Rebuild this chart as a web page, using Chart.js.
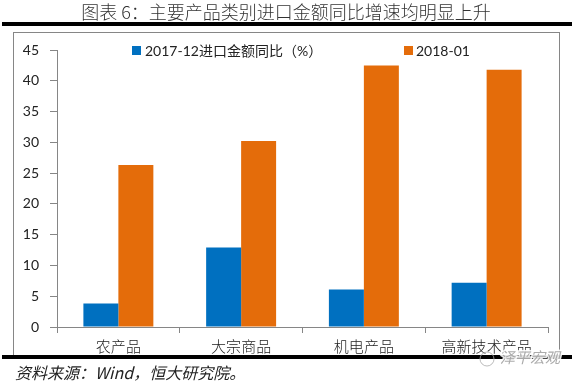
<!DOCTYPE html>
<html>
<head>
<meta charset="utf-8">
<script src="https://cdn.jsdelivr.net/npm/chart.js@4"></script>
<style>
  html, body { margin: 0; padding: 0; background: #fff; }
  #wrap { width: 574px; height: 383px; position: relative; }
</style>
</head>
<body>
<div id="wrap"><canvas id="chart" width="574" height="383"></canvas></div>
<script>
const categories = ["农产品", "大宗商品", "机电产品", "高新技术产品"];
const dec2017 = [3.8, 12.9, 6.1, 7.2];
const jan2018 = [26.3, 30.2, 42.5, 41.8];
const seriesNames = ["2017-12进口金额同比（%）", "2018-01"];
const yTicks = [0, 5, 10, 15, 20, 25, 30, 35, 40, 45];

const blue = "#0070C0";
const orange = "#E46C0A";
const axisGray = "#868686";
const numFont = "Lato, 'Noto Sans CJK SC', sans-serif";
const cjkFont = "'Noto Sans CJK SC', sans-serif";

// title, frame, custom legend and source line
const decor = {
  id: "decor",
  afterDraw(chart) {
    const ctx = chart.ctx;
    ctx.save();

    ctx.fillStyle = "#333";
    ctx.font = "300 18px " + cjkFont;
    ctx.textAlign = "center";
    ctx.textBaseline = "middle";
    ctx.fillText("图表 6：主要产品类别进口金额同比增速均明显上升", 286, 12);

    ctx.fillStyle = "#000";
    ctx.fillRect(2, 22, 570, 4);

    ctx.strokeStyle = axisGray;
    ctx.lineWidth = 1;
    ctx.strokeRect(13.5, 32.5, 546, 323);

    ctx.fillRect(2, 355, 570, 4);

    // legend
    const items = [[132, 145], [404, 416]];
    ctx.font = "14px " + numFont;
    ctx.textAlign = "left";
    chart.data.datasets.forEach((ds, i) => {
      ctx.fillStyle = ds.backgroundColor;
      ctx.fillRect(items[i][0], 46, 9, 9);
      ctx.fillStyle = "#222";
      ctx.fillText(ds.label, items[i][1], 51);
    });

    // watermark
    ctx.font = "italic 15px " + cjkFont;
    ctx.lineWidth = 3;
    ctx.strokeStyle = "rgba(255,255,255,0.9)";
    ctx.strokeText("泽平宏观", 500, 357);
    ctx.fillStyle = "rgba(150,150,150,0.8)";
    ctx.fillText("泽平宏观", 500, 357);
    ctx.beginPath();
    ctx.strokeStyle = "rgba(170,170,170,0.8)";
    ctx.lineWidth = 1;
    ctx.arc(487, 359, 7, 0, Math.PI * 2);
    ctx.stroke();

    ctx.fillStyle = "#222";
    ctx.font = "italic 16px " + cjkFont;
    ctx.fillText("资料来源：Wind，恒大研究院。", 15, 373);

    ctx.restore();
  }
};

new Chart(document.getElementById("chart"), {
  type: "bar",
  data: {
    labels: categories,
    datasets: [
      { label: seriesNames[0], data: dec2017, backgroundColor: blue },
      { label: seriesNames[1], data: jan2018, backgroundColor: orange }
    ]
  },
  options: {
    responsive: false,
    animation: false,
    layout: { padding: { left: 0, top: 50, right: 26, bottom: 0 } },
    datasets: { bar: { categoryPercentage: 0.57, barPercentage: 1.0 } },
    plugins: {
      legend: { display: false },
      tooltip: { enabled: false }
    },
    scales: {
      x: {
        afterFit(scale) { scale.height = 56; },
        grid: { drawOnChartArea: false, tickLength: 6, color: axisGray },
        border: { color: axisGray },
        ticks: { color: "#222", padding: 4, font: { family: cjkFont, size: 15, weight: "300" } }
      },
      y: {
        min: 0,
        max: 45,
        afterFit(scale) { scale.width = 57; },
        afterBuildTicks(scale) { scale.ticks = yTicks.map(v => ({ value: v })); },
        grid: { drawOnChartArea: false, tickLength: 7, color: axisGray },
        border: { color: axisGray },
        ticks: { color: "#222", padding: 11, font: { family: numFont, size: 14 } }
      }
    }
  },
  plugins: [decor]
});
</script>
</body>
</html>
